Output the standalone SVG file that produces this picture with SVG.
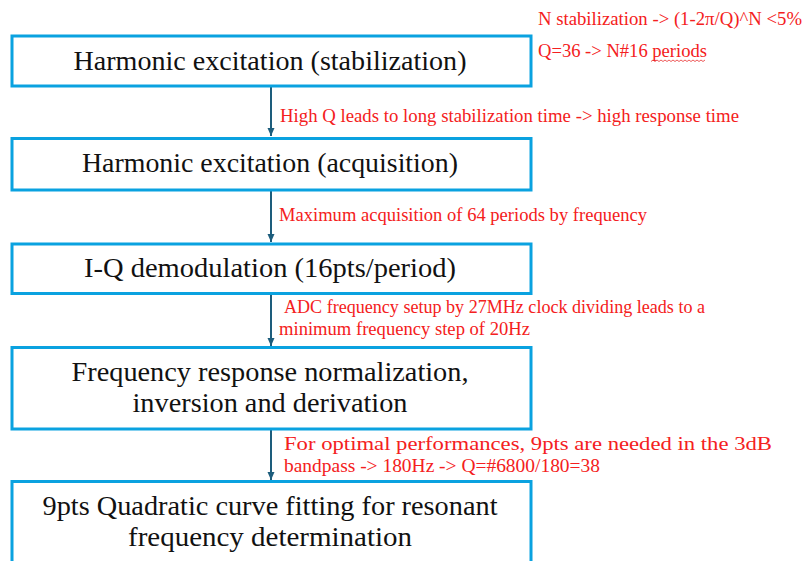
<svg xmlns="http://www.w3.org/2000/svg" width="806" height="561" viewBox="0 0 806 561">
<style>
.box{fill:#fff;stroke:#0aa2e0;stroke-width:3}
.t{font-family:"Liberation Serif","DejaVu Serif",serif;font-size:26.5px;fill:#111;text-anchor:middle}
.n{font-family:"Liberation Serif","DejaVu Serif",serif;font-size:19px;fill:#f42020}
.c{stroke:#1d5d7c;stroke-width:2;fill:none;marker-end:url(#ah)}
</style>
<defs>
<marker id="ah" viewBox="0 0 8 8" refX="8" refY="4" markerWidth="8" markerHeight="8" markerUnits="userSpaceOnUse" orient="auto">
<path d="M0,0.5 L8,4 L0,7.5 Z" fill="#1d5d7c"/>
</marker>
</defs>
<rect width="806" height="561" fill="#fff"/>
<g id="connectors">
<line class="c" x1="271" y1="87" x2="271" y2="136"/>
<line class="c" x1="271" y1="191" x2="271" y2="242"/>
<line class="c" x1="271" y1="295" x2="271" y2="346"/>
<line class="c" x1="271" y1="430" x2="271" y2="480"/>
</g>
<g id="n1"><rect class="box" x="12" y="36" width="519" height="50"/>
<text class="t" x="270" y="70" textLength="393" lengthAdjust="spacingAndGlyphs">Harmonic excitation (stabilization)</text></g>
<g id="n2"><rect class="box" x="12" y="138.5" width="519" height="51.5"/>
<text class="t" x="270" y="172" textLength="376" lengthAdjust="spacingAndGlyphs">Harmonic excitation (acquisition)</text></g>
<g id="n3"><rect class="box" x="12" y="244" width="519" height="49.5"/>
<text class="t" x="270" y="277" textLength="372" lengthAdjust="spacingAndGlyphs">I-Q demodulation (16pts/period)</text></g>
<g id="n4"><rect class="box" x="12" y="347.5" width="519" height="81.5"/>
<text class="t" x="270" y="381" textLength="397" lengthAdjust="spacingAndGlyphs">Frequency response normalization,</text>
<text class="t" x="270" y="412" textLength="275" lengthAdjust="spacingAndGlyphs">inversion and derivation</text></g>
<g id="n5"><rect class="box" x="12" y="481.5" width="519" height="90"/>
<text class="t" x="270" y="515" textLength="455" lengthAdjust="spacingAndGlyphs">9pts Quadratic curve fitting for resonant</text>
<text class="t" x="270" y="546" textLength="284" lengthAdjust="spacingAndGlyphs">frequency determination</text></g>
<g id="notes">
<text class="n" x="538" y="25" textLength="264" lengthAdjust="spacingAndGlyphs">N stabilization -&gt; (1-2π/Q)^N &lt;5%</text>
<text class="n" x="538" y="57" textLength="169" lengthAdjust="spacingAndGlyphs">Q=36 -&gt; N#16 periods</text>
<path d="M651,61.5 l2,-1.5 l2,1.5 l2,-1.5 l2,1.5 l2,-1.5 l2,1.5 l2,-1.5 l2,1.5 l2,-1.5 l2,1.5 l2,-1.5 l2,1.5 l2,-1.5 l2,1.5 l2,-1.5 l2,1.5 l2,-1.5 l2,1.5 l2,-1.5 l2,1.5 l2,-1.5 l2,1.5 l2,-1.5 l2,1.5 l2,-1.5 l2,1.5 l2,-1.5" fill="none" stroke="#e83030" stroke-width="0.8"/>
<text class="n" x="280" y="122" textLength="459" lengthAdjust="spacingAndGlyphs">High Q leads to long stabilization time -&gt; high response time</text>
<text class="n" x="279" y="221" textLength="368" lengthAdjust="spacingAndGlyphs">Maximum acquisition of 64 periods by frequency</text>
<text class="n" x="284" y="313" textLength="421" lengthAdjust="spacingAndGlyphs">ADC frequency setup by 27MHz clock dividing leads to a</text>
<text class="n" x="279" y="335" textLength="251" lengthAdjust="spacingAndGlyphs">minimum frequency step of 20Hz</text>
<text class="n" x="284" y="450" textLength="488" lengthAdjust="spacingAndGlyphs">For optimal performances, 9pts are needed in the 3dB</text>
<text class="n" x="284" y="472" textLength="316" lengthAdjust="spacingAndGlyphs">bandpass -&gt; 180Hz -&gt; Q=#6800/180=38</text>
</g>
</svg>
